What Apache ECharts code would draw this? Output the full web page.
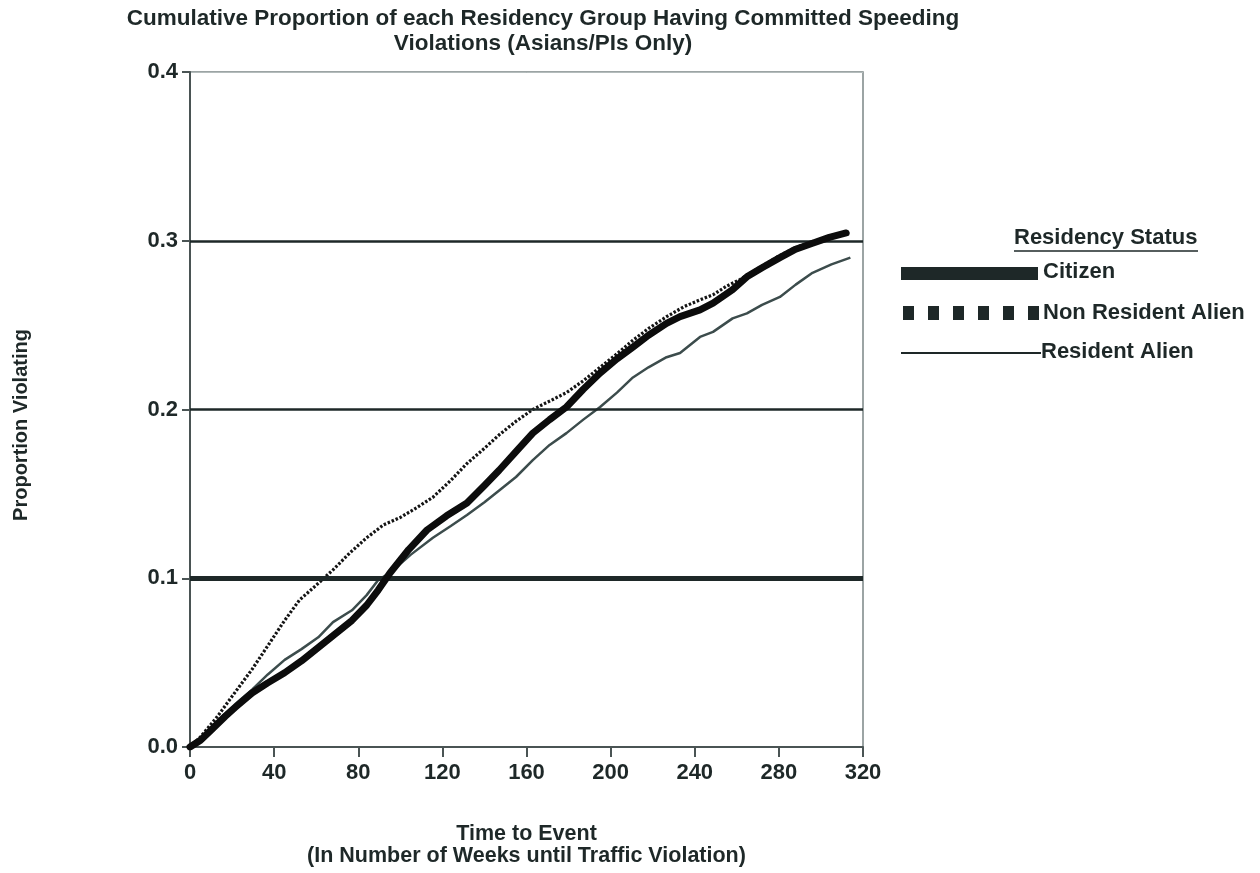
<!DOCTYPE html>
<html>
<head>
<meta charset="utf-8">
<script src="https://cdn.jsdelivr.net/npm/echarts@6/dist/echarts.min.js"></script>
<style>
  html, body { margin: 0; padding: 0; background: #fff; }
  #chart { width: 1260px; height: 873px; }
</style>
</head>
<body>
<div id="chart"></div>
<script>
// Cumulative proportion violating by week, per residency group: [week, proportion]
const citizen = [
  [0, 0], [5, 0.004], [10, 0.010], [16.6, 0.018], [22, 0.024], [29.5, 0.032],
  [37, 0.038], [45, 0.044], [53, 0.051], [61, 0.059], [69, 0.067], [77, 0.075],
  [84, 0.084], [89.5, 0.093], [95, 0.103], [104, 0.117], [112.7, 0.1286], [122, 0.137],
  [131.7, 0.1446], [140, 0.155], [147, 0.164], [155, 0.175], [163, 0.186], [171, 0.194],
  [179, 0.2015], [187, 0.212], [195, 0.2216], [203, 0.230], [210.6, 0.237], [218, 0.244],
  [226.6, 0.251], [233, 0.255], [242.5, 0.259], [248.7, 0.263], [258, 0.271], [264.8, 0.2786],
  [272, 0.284], [280.5, 0.290], [288, 0.295], [296, 0.2985], [304, 0.302], [312, 0.3046]
];
const nonResidentAlien = [
  [0, 0], [5, 0.006], [13, 0.018], [20, 0.030], [29.5, 0.046], [37, 0.060], [45, 0.075],
  [52, 0.087], [61, 0.097], [68, 0.105], [76, 0.115], [84, 0.124], [92, 0.1316], [100, 0.136],
  [108, 0.142], [115.5, 0.148], [124, 0.158], [131.7, 0.168], [140, 0.177], [147, 0.185],
  [155, 0.193], [163, 0.200], [171, 0.205], [179, 0.210], [187, 0.217], [195, 0.225],
  [203, 0.233], [210.6, 0.241], [218, 0.248], [226.6, 0.255], [235, 0.261], [242.5, 0.265],
  [248.7, 0.268], [255, 0.273], [261.5, 0.277], [268, 0.282], [272, 0.285], [280, 0.291],
  [288, 0.296], [296, 0.2995], [304, 0.302], [312, 0.305]
];
const residentAlien = [
  [0, 0], [5, 0.005], [10, 0.011], [16, 0.019], [22, 0.026], [29.5, 0.034], [37, 0.043],
  [45, 0.0516], [53, 0.058], [61, 0.065], [68, 0.074], [77, 0.081], [84, 0.090], [89.5, 0.099],
  [95, 0.103], [105, 0.114], [115.5, 0.124], [124, 0.131], [131.7, 0.1375], [140, 0.145],
  [147, 0.152], [155, 0.160], [163, 0.170], [171, 0.179], [179, 0.186], [187, 0.194],
  [195, 0.2015], [203, 0.210], [210.6, 0.219], [218, 0.225], [226.6, 0.231], [233, 0.2335],
  [242.5, 0.243], [248.7, 0.246], [258, 0.254], [264.8, 0.257], [272, 0.262], [280.5, 0.2667],
  [288, 0.274], [296, 0.281], [305, 0.286], [314, 0.290]
];
const referenceLevels = [0.1, 0.2, 0.3];
const referenceWidths = [5, 2.5, 2.5];
const xTicks = { min: 0, max: 320, step: 40 };
const yTicks = { min: 0, max: 0.4, step: 0.1 };
const groupNames = ['Citizen', 'Non Resident Alien', 'Resident Alien'];

const FONT = '"Liberation Sans", Arial, sans-serif';
const INK = '#1e2828';

const chart = echarts.init(document.getElementById('chart'), null, { renderer: 'canvas' });

// Legend block drawn by hand on the right side
const legendX = 901, legendTextX = 1043;
const dotSquares = [];
for (let i = 0; i < 6; i++) {
  dotSquares.push({
    type: 'rect',
    shape: { x: legendX + 2 + i * 25, y: 306, width: 11, height: 14 },
    style: { fill: INK }
  });
}
const legendFont = 'bold 22px ' + FONT;
const legendGraphics = [
  { type: 'text', left: 1014, top: 227,
    style: { text: 'Residency Status', font: legendFont, fill: INK } },
  { type: 'line', shape: { x1: 1014, y1: 251, x2: 1198, y2: 251 },
    style: { stroke: INK, lineWidth: 1.5 } },
  { type: 'rect', shape: { x: legendX, y: 267, width: 137, height: 13 }, style: { fill: INK } },
  { type: 'text', left: legendTextX, top: 261,
    style: { text: groupNames[0], font: legendFont, fill: INK } },
  ...dotSquares,
  { type: 'text', left: legendTextX, top: 302,
    style: { text: groupNames[1], font: legendFont, fill: INK } },
  { type: 'line', shape: { x1: legendX, y1: 353, x2: 1041, y2: 353 },
    style: { stroke: INK, lineWidth: 2 } },
  { type: 'text', left: 1041, top: 341,
    style: { text: groupNames[2], font: legendFont, fill: INK } },
  // vertical axis title
  { type: 'text', x: 21, y: 425, rotation: Math.PI / 2,
    style: { text: 'Proportion Violating', font: 'bold 20px ' + FONT, fill: INK,
      align: 'center', verticalAlign: 'middle' } }
];

const option = {
  backgroundColor: '#ffffff',
  animation: false,
  textStyle: { fontFamily: FONT },
  title: {
    text: 'Cumulative Proportion of each Residency Group Having Committed Speeding\nViolations (Asians/PIs Only)',
    left: 538, top: 1, textAlign: 'center',
    textStyle: { fontSize: 22.5, fontWeight: 'bold', color: INK, lineHeight: 25, fontFamily: FONT }
  },
  grid: {
    left: 190, right: 397, top: 72, bottom: 126,
    show: true, borderColor: '#7c8686', borderWidth: 1.5, backgroundColor: 'transparent'
  },
  xAxis: {
    type: 'value', min: xTicks.min, max: xTicks.max, interval: xTicks.step,
    name: 'Time to Event\n(In Number of Weeks until Traffic Violation)',
    nameLocation: 'middle', nameGap: 76,
    nameTextStyle: { fontSize: 21.5, fontWeight: 'bold', color: INK, lineHeight: 22 },
    axisLine: { show: true, lineStyle: { color: '#4a5454', width: 2 } },
    axisTick: { show: true, length: 10, lineStyle: { color: '#4a5454', width: 2 } },
    axisLabel: { fontSize: 22, fontWeight: 'bold', color: INK, margin: 15 },
    splitLine: { show: false }
  },
  yAxis: {
    type: 'value', min: yTicks.min, max: yTicks.max, interval: yTicks.step,
    axisLine: { show: true, lineStyle: { color: '#4a5454', width: 2 } },
    axisTick: { show: true, length: 8, lineStyle: { color: '#4a5454', width: 2 } },
    axisLabel: { fontSize: 22, fontWeight: 'bold', color: INK, margin: 12,
      formatter: v => v.toFixed(1) },
    splitLine: { show: true, lineStyle: { color: '#b4bcbc', width: 1 } }
  },
  graphic: legendGraphics,
  series: [
    {
      name: 'reference levels', type: 'line', data: [], z: 1, silent: true,
      markLine: {
        silent: true, symbol: 'none', label: { show: false },
        data: referenceLevels.map((v, i) => ({
          yAxis: v, lineStyle: { color: INK, width: referenceWidths[i], type: 'solid' }
        }))
      }
    },
    {
      name: groupNames[2], type: 'line', data: residentAlien, z: 3,
      showSymbol: false, symbol: 'none',
      lineStyle: { color: '#3c4c4c', width: 2.5 }
    },
    {
      name: groupNames[1], type: 'line', data: nonResidentAlien, z: 4,
      showSymbol: false, symbol: 'none',
      lineStyle: { color: '#141414', width: 3.2, type: [2.5, 1.8] }
    },
    {
      name: groupNames[0], type: 'line', data: citizen, z: 5,
      showSymbol: false, symbol: 'none',
      lineStyle: { color: '#0c0c0c', width: 7, join: 'round', cap: 'round' }
    }
  ]
};

chart.setOption(option);
</script>
</body>
</html>
